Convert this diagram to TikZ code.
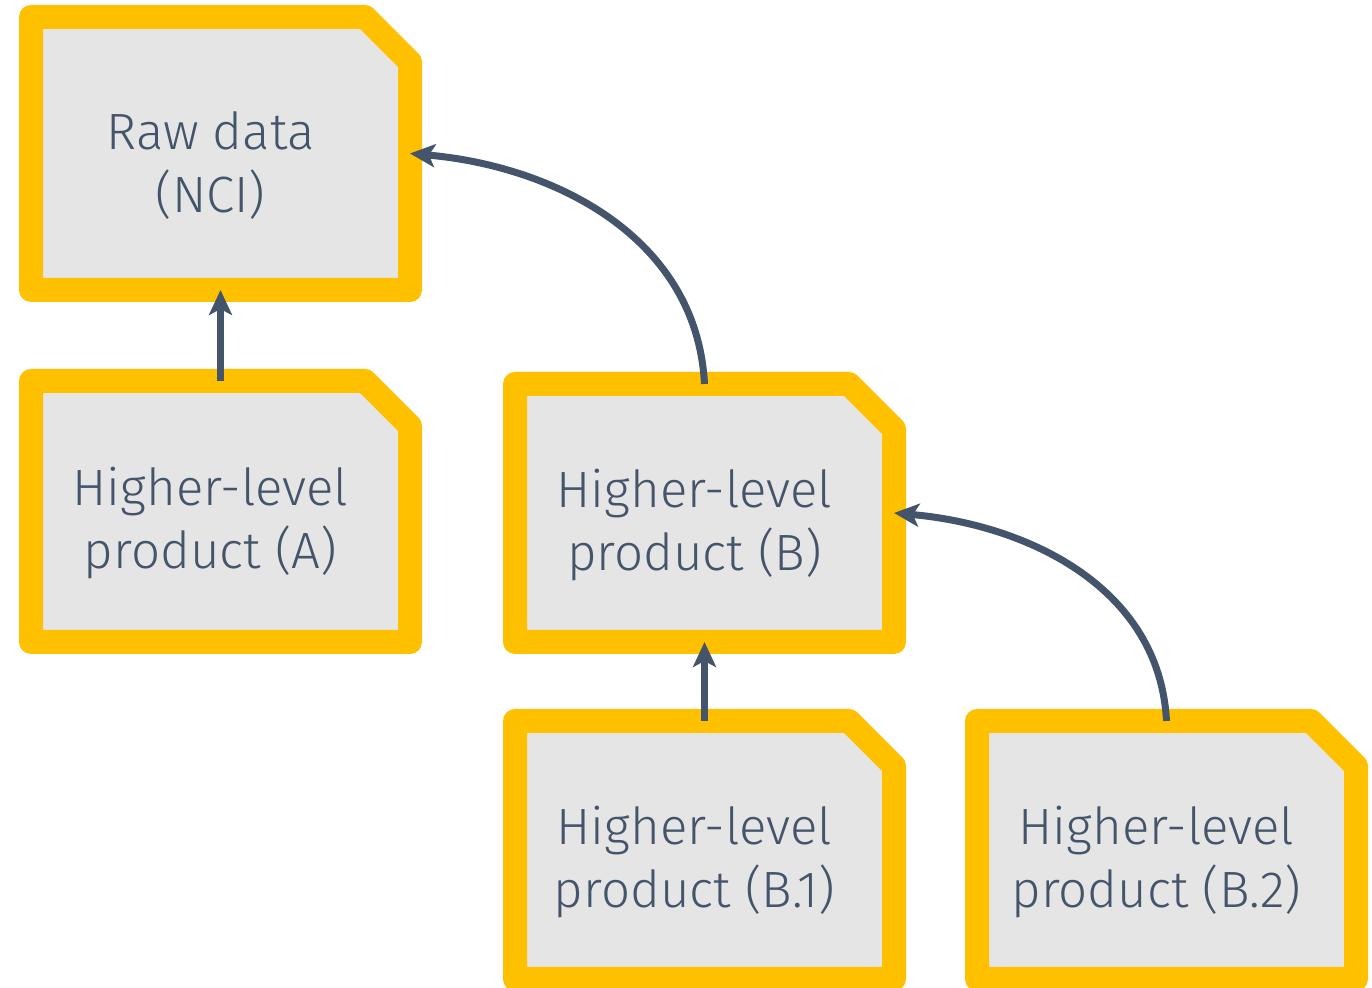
\documentclass[tikz,border=0pt]{standalone}
\usepackage{fontspec}
\setmainfont{Fira Sans Light}
\usetikzlibrary{arrows.meta,backgrounds}

\definecolor{docyellow}{HTML}{FFC000}
\definecolor{docgray}{HTML}{E5E5E5}
\definecolor{slate}{HTML}{44546A}

\tikzset{
  doc/.style={minimum width=189.5pt, minimum height=129pt, inner sep=0pt, outer sep=0pt},
  doctext/.style={xshift=-5pt, yshift=-6pt, align=center, text=slate,
    font=\fontsize{25.5}{31.5}\selectfont},
  docframe/.style={draw=docyellow, fill=docgray, line width=12pt, line join=round},
  link/.style={draw=slate, line width=3.5pt, -{Stealth[length=12.5pt,width=11.5pt,inset=3pt]}}
}

\begin{document}
\begin{tikzpicture}[x=0.5pt, y=0.5pt]
    \useasboundingbox (0,0) rectangle (1372,988);

    % documents
    \node[doc, minimum height=136.5pt, label={[doctext]center:Raw data\\(NCI)}] (raw) at (220.5,834.5) {};
    \node[doc, minimum height=130.5pt, label={[doctext]center:Higher-level\\product (A)}] (prodA) at (220.5,476.5) {};
    \node[doc, label={[doctext]center:Higher-level\\product (B)}] (prodB) at (704.5,475) {};
    \node[doc, label={[doctext]center:Higher-level\\product (B.1)}] (prodB1) at (704.5,138) {};
    \node[doc, label={[doctext]center:Higher-level\\product (B.2)}] (prodB2) at (1166.5,138) {};

    \begin{scope}[on background layer]
        \foreach \n in {raw,prodA,prodB,prodB1,prodB2}
            \draw[docframe] (\n.south west) -- (\n.north west) -- ([xshift=-22.5pt]\n.north east)
                -- ([yshift=-22.5pt]\n.north east) -- (\n.south east) -- cycle;
    \end{scope}

    % derivations
    \draw[link] (prodA.north) -- (raw.south);
    \draw[link] (prodB.north) to[out=93, in=-5] (raw.east);
    \draw[link] (prodB1.north) -- (prodB.south);
    \draw[link] (prodB2.north) to[out=93, in=-5] (prodB.east);
\end{tikzpicture}
\end{document}
